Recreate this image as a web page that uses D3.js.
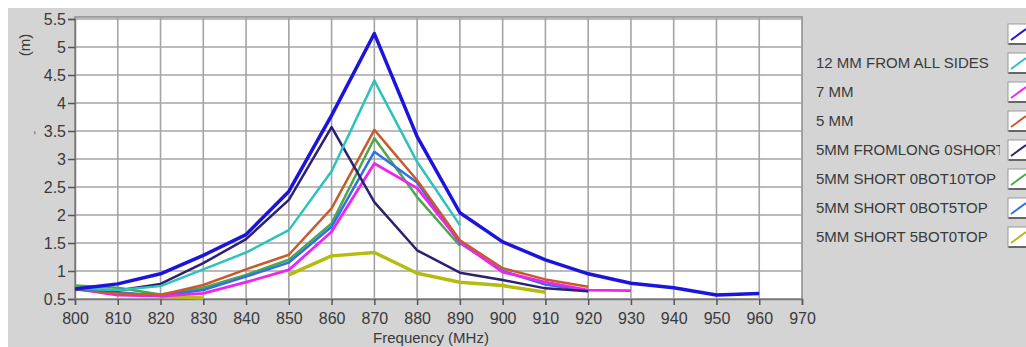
<!DOCTYPE html>
<html>
<head>
<meta charset="utf-8">
<script src="https://cdn.jsdelivr.net/npm/d3@7"></script>
<style>
  html, body { margin: 0; padding: 0; background: #fff; }
  svg { display: block; font-family: "Liberation Sans", Arial, sans-serif; }
</style>
</head>
<body>
<svg id="chart"></svg>
<script>
// frequency steps (MHz)
const freqs = [800, 810, 820, 830, 840, 850, 860, 870, 880, 890, 900, 910, 920, 930, 940, 950, 960];

// values, null = no point
const blueTop   = [0.68, 0.77, 0.95, 1.28, 1.65, 2.42, 3.78, 5.24, 3.40, 2.04, 1.52, 1.20, 0.95, 0.78, 0.70, 0.57, 0.60];
const mm12      = [0.68, 0.66, 0.73, 1.03, 1.33, 1.73, 2.78, 4.40, 2.95, 1.82, null, null, null, null, null, null, null];
const mm7       = [0.68, 0.57, 0.55, 0.60, 0.80, 1.02, 1.70, 2.92, 2.48, 1.52, 0.98, 0.80, 0.66, 0.65, null, null, null];
const mm5       = [0.68, 0.60, 0.57, 0.75, 1.03, 1.29, 2.12, 3.52, 2.62, 1.55, 1.05, 0.85, 0.72, null, null, null, null];
const fromLong  = [0.68, 0.65, 0.77, 1.14, 1.57, 2.27, 3.57, 2.23, 1.37, 0.97, 0.84, 0.69, 0.64, null, null, null, null];
const bot10     = [0.74, 0.70, 0.58, 0.70, 0.93, 1.20, 1.85, 3.37, 2.32, 1.45, null, null, null, null, null, null, null];
const bot5      = [0.67, 0.62, 0.56, 0.66, 0.90, 1.15, 1.79, 3.13, 2.58, 1.50, 1.00, 0.76, 0.64, null, null, null, null];
const bot0      = [null, null, 0.55, 0.52, null, 0.93, 1.27, 1.33, 0.96, 0.80, 0.74, 0.62, null, null, null, null, null];

const seriesNames = ["", "12 MM FROM ALL SIDES", "7 MM", "5 MM", "5MM FROMLONG 0SHORT", "5MM SHORT 0BOT10TOP", "5MM SHORT 0BOT5TOP", "5MM SHORT 5BOT0TOP"];
const seriesValues = [blueTop, mm12, mm7, mm5, fromLong, bot10, bot5, bot0];
const seriesColors = ["#1c14dc", "#2ec2bc", "#f024f0", "#c85a2c", "#2c2070", "#4aa84a", "#2e70e6", "#b4bc10"];
const seriesWidths = [3.5, 2.5, 2.8, 2.5, 2.5, 2.5, 2.5, 3.5];

const xTicks = d3.range(800, 971, 10);
const yTicks = d3.range(0.5, 5.51, 0.5);

const width = 1026, height = 347;
const plot = { left: 75, right: 802, top: 17, bottom: 299 };

const svg = d3.select("#chart").attr("width", width).attr("height", height);

// 배경
svg.append("rect").attr("width", width).attr("height", height).attr("fill", "#fff");
svg.append("rect").attr("x", 8).attr("y", 8).attr("width", width - 8).attr("height", height - 8).attr("fill", "#d4d4d4");

const x = d3.scaleLinear([800, 970], [plot.left, plot.right]);
const y = d3.scaleLinear([0.5, 5.5], [plot.bottom, 19]);

svg.append("rect")
   .attr("x", plot.left).attr("y", plot.top)
   .attr("width", plot.right - plot.left).attr("height", plot.bottom - plot.top)
   .attr("fill", "#fff")
   .attr("stroke", "#8a8a8a").attr("stroke-width", 1.5);

// grid
const grid = svg.append("g").attr("stroke", "#a4a4a4").attr("stroke-width", 1.6);
grid.selectAll("line.v").data(xTicks.slice(1, -1)).join("line")
    .attr("x1", d => x(d)).attr("x2", d => x(d))
    .attr("y1", plot.top).attr("y2", plot.bottom);
grid.selectAll("line.h").data(yTicks.slice(1)).join("line")
    .attr("x1", plot.left).attr("x2", plot.right)
    .attr("y1", d => y(d)).attr("y2", d => y(d));

// axes
const xAxis = d3.axisBottom(x).tickValues(xTicks).tickSize(6).tickPadding(8).tickFormat(d3.format("d"));
const yAxis = d3.axisLeft(y).tickValues(yTicks).tickSize(7).tickPadding(2).tickFormat(d => d3.format("~g")(d));

svg.append("g")
   .attr("transform", `translate(0,${plot.bottom})`)
   .call(xAxis)
   .call(g => g.select(".domain").attr("stroke", "#777").attr("stroke-width", 1.5))
   .call(g => g.selectAll(".tick line").attr("stroke", "#555").attr("stroke-width", 1.5))
   .call(g => g.selectAll(".tick text").attr("fill", "#3a3a3a").attr("font-size", 16).attr("font-family", "Liberation Sans, Arial"));

svg.append("g")
   .attr("transform", `translate(${plot.left},0)`)
   .call(yAxis)
   .call(g => g.select(".domain").attr("stroke", "#777").attr("stroke-width", 1.5))
   .call(g => g.selectAll(".tick line").attr("stroke", "#555").attr("stroke-width", 1.5))
   .call(g => g.selectAll(".tick text").attr("fill", "#3a3a3a").attr("font-size", 16).attr("font-family", "Liberation Sans, Arial"));

// axis titles
svg.append("text")
   .attr("transform", "translate(30,45) rotate(-90)")
   .attr("text-anchor", "middle")
   .attr("fill", "#3a3a3a").attr("font-size", 15)
   .text("(m)");
svg.append("text").attr("x", 33).attr("y", 133).attr("fill", "#666").attr("font-size", 12).text(",");
svg.append("text")
   .attr("x", 431).attr("y", 343)
   .attr("text-anchor", "middle")
   .attr("fill", "#3a3a3a").attr("font-size", 15)
   .text("Frequency (MHz)");

// lines
const line = d3.line()
   .defined(d => d[1] != null)
   .x(d => x(d[0]))
   .y(d => y(d[1]));

const drawOrder = [7, 5, 6, 2, 3, 4, 1, 0];
svg.append("g")
   .attr("fill", "none")
   .attr("stroke-linejoin", "round")
   .selectAll("path")
   .data(drawOrder)
   .join("path")
   .attr("stroke", i => seriesColors[i])
   .attr("stroke-width", i => seriesWidths[i])
   .attr("d", i => line(freqs.map((f, k) => [f, seriesValues[i][k]])));

// legend
svg.append("clipPath").attr("id", "legclip")
   .append("rect").attr("x", 800).attr("y", 0).attr("width", 200).attr("height", height);

const legend = svg.append("g");
const rowY = i => 34 + i * 29;
legend.append("g").attr("clip-path", "url(#legclip)")
      .selectAll("text").data(seriesNames).join("text")
      .attr("x", 816).attr("y", (d, i) => rowY(i) + 5)
      .attr("fill", "#3a3a3a").attr("font-size", 15)
      .text(d => d);

const sw = legend.selectAll("g.sw").data(seriesColors).join("g")
      .attr("transform", (d, i) => `translate(1008,${rowY(i) - 10})`);
sw.append("rect").attr("width", 24).attr("height", 20)
  .attr("fill", "#fff").attr("stroke", "#9a9a9a");
sw.append("line").attr("x1", 0.5).attr("y1", 20).attr("x2", 24).attr("y2", 20)
  .attr("stroke", "#666").attr("stroke-width", 2);
sw.append("line").attr("x1", 3).attr("y1", 16).attr("x2", 18).attr("y2", 5)
  .attr("stroke", d => d).attr("stroke-width", 2);
</script>
</body>
</html>
